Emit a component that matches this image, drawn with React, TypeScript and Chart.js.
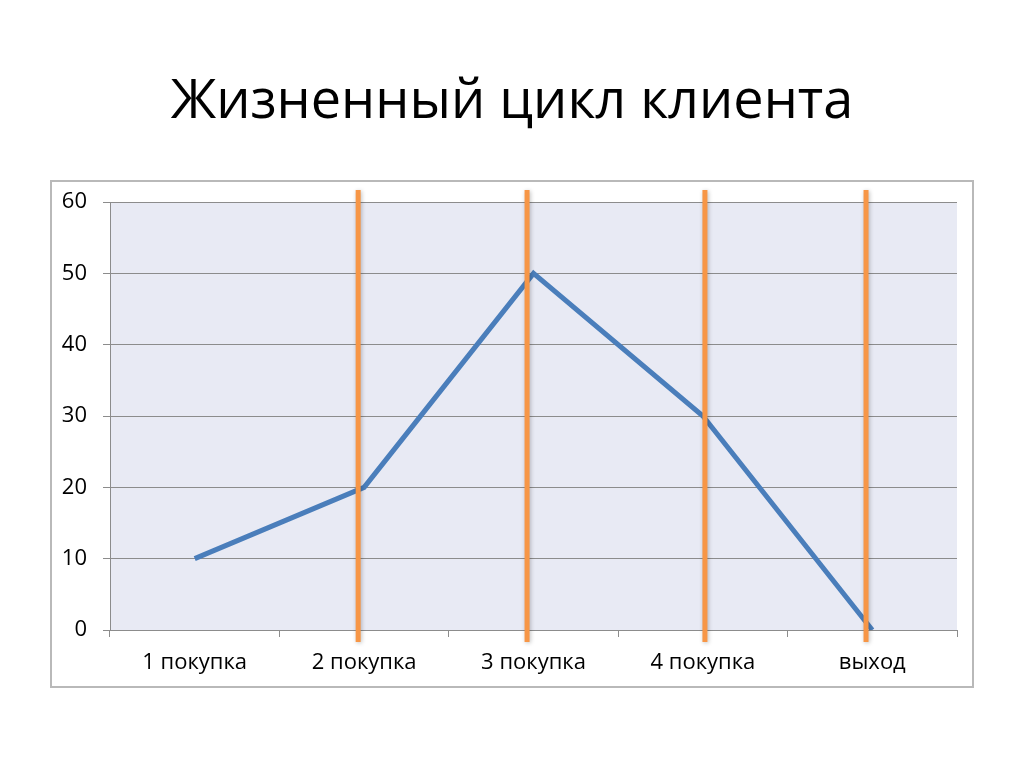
import React, { useEffect, useRef } from "react";
import { Chart, registerables } from "chart.js";
Chart.register(...registerables);

const titleText = "Жизненный цикл клиента";
const categories = ["1 покупка", "2 покупка", "3 покупка", "4 покупка", "выход"];
const values = [10, 20, 50, 30, 0];
const yMin = 0;
const yMax = 60;
const yStep = 10;
// positions of the orange vertical markers, in category-index units
const markerPositions = [0.965, 1.962, 3.012, 3.963];

const FONT = "'Open Sans', 'Noto Sans', sans-serif";

const plotBackground = {
  id: "plotBackground",
  beforeDraw(chart: any) {
    const { ctx, chartArea } = chart;
    ctx.save();
    ctx.fillStyle = "#e8eaf4";
    ctx.fillRect(chartArea.left, chartArea.top, chartArea.right - chartArea.left, chartArea.bottom - chartArea.top);
    ctx.restore();
  },
};

const markerLines = {
  id: "markerLines",
  afterDatasetsDraw(chart: any) {
    const { ctx, chartArea, scales } = chart;
    ctx.save();
    ctx.strokeStyle = "#f79646";
    ctx.lineWidth = 5;
    ctx.lineCap = "butt";
    ctx.shadowColor = "rgba(0,0,0,0.25)";
    ctx.shadowBlur = 4;
    ctx.shadowOffsetX = 1;
    ctx.shadowOffsetY = 1;
    for (const p of markerPositions) {
      const x = scales.x.getPixelForValue(p);
      ctx.beginPath();
      ctx.moveTo(x, chartArea.top - 12);
      ctx.lineTo(x, chartArea.bottom + 12);
      ctx.stroke();
    }
    ctx.restore();
  },
};

export default function App() {
  const ref = useRef<HTMLCanvasElement | null>(null);
  useEffect(() => {
    if (!ref.current) return;
    const chart = new Chart(ref.current, {
      type: "line",
      data: {
        labels: categories,
        datasets: [
          {
            data: values,
            borderColor: "#4a7ebb",
            borderWidth: 5,
            pointRadius: 0,
            tension: 0,
            fill: false,
          },
        ],
      },
      options: {
        animation: false,
        responsive: false,
        maintainAspectRatio: false,
        layout: { padding: { left: 50, right: 67, top: 202, bottom: 88 } },
        plugins: { legend: { display: false }, tooltip: { enabled: false }, title: { display: false } },
        scales: {
          x: {
            type: "category",
            offset: true,
            grid: {
              offset: true,
              drawOnChartArea: false,
              drawTicks: true,
              tickLength: 7,
              color: "#8c8c8c",
            },
            border: { display: true, color: "#8c8c8c", width: 1 },
            ticks: { color: "#000", font: { family: FONT, size: 22 }, padding: 13, maxRotation: 0 },
            afterFit: (s: any) => {
              s.height = 50;
            },
          },
          y: {
            min: yMin,
            max: yMax,
            ticks: { stepSize: yStep, color: "#000", font: { family: FONT, size: 22 }, padding: 16 },
            grid: { color: "#8c8c8c", tickLength: 7, lineWidth: 1 },
            border: { display: true, color: "#8c8c8c", width: 1 },
            afterFit: (s: any) => {
              s.width = 60;
            },
          },
        },
      },
      plugins: [plotBackground, markerLines],
    });
    return () => chart.destroy();
  }, []);

  return (
    <div style={{ position: "absolute", left: 0, top: 0, width: 1024, height: 768, background: "#fff" }}>
      <div
        style={{
          position: "absolute",
          left: 0,
          top: 62,
          width: 1024,
          textAlign: "center",
          fontFamily: FONT,
          fontSize: 54,
          lineHeight: "70px",
          color: "#000",
        }}
      >
        {titleText}
      </div>
      <div
        style={{
          position: "absolute",
          left: 50,
          top: 180,
          width: 920,
          height: 504,
          border: "2px solid #b9b9b9",
        }}
      />
      <canvas ref={ref} width={1024} height={768} style={{ position: "absolute", left: 0, top: 0 }} />
    </div>
  );
}
